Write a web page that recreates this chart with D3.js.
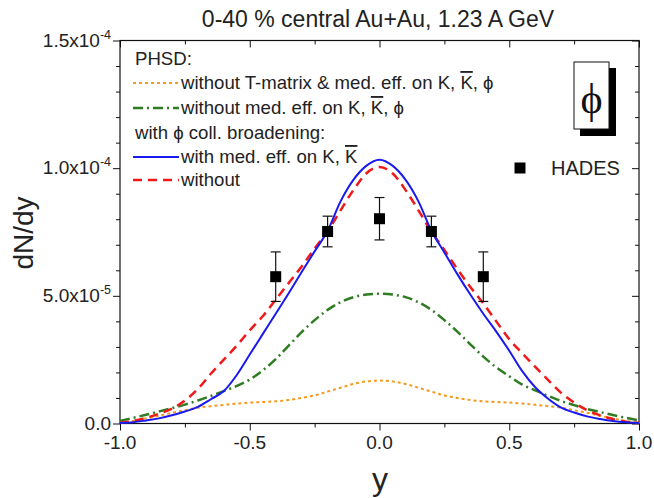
<!DOCTYPE html>
<html><head><meta charset="utf-8">
<script src="https://cdn.jsdelivr.net/npm/d3@7"></script>
<style>
html,body{margin:0;padding:0;background:#fff;}
svg text{font-family:"Liberation Sans",Arial,sans-serif;fill:#222;}
</style></head>
<body>
<svg id="chart" width="654" height="498"></svg>
<script>
// ---- data ----
const rapidity = [-1.0,-0.95,-0.9,-0.85,-0.8,-0.75,-0.7,-0.65,-0.6,-0.55,-0.5,-0.45,-0.4,-0.35,-0.3,-0.25,-0.2,-0.15,-0.1,-0.05,0.0,
                  0.05,0.1,0.15,0.2,0.25,0.3,0.35,0.4,0.45,0.5,0.55,0.6,0.65,0.7,0.75,0.8,0.85,0.9,0.95,1.0];
// values in units of 1e-5
const withMedEff = [0.02,0.05,0.12,0.2,0.32,0.47,0.65,0.95,1.27,1.9,2.7,3.5,4.3,5.1,5.93,6.74,7.55,8.7,9.55,10.1,10.33,
                    10.1,9.55,8.7,7.55,6.7,5.85,5.05,4.3,3.6,2.85,2.05,1.42,0.97,0.62,0.43,0.28,0.18,0.1,0.05,0.02];
const withoutMedEff = [0.03,0.1,0.22,0.38,0.58,0.9,1.35,1.95,2.5,3.05,3.65,4.2,4.85,5.5,6.15,6.85,7.52,8.35,9.15,9.8,10.05,
                       9.8,9.15,8.35,7.52,6.8,6.05,5.35,4.7,4.0,3.3,2.75,2.22,1.7,1.2,0.82,0.52,0.32,0.17,0.07,0.02];
const noMedEffKKphi = [0.1,0.22,0.34,0.47,0.6,0.74,0.9,1.08,1.27,1.47,1.72,2.08,2.52,3.05,3.58,4.05,4.45,4.75,4.95,5.05,5.08,
                       5.05,4.95,4.75,4.45,4.05,3.6,3.1,2.62,2.2,1.85,1.52,1.3,1.08,0.88,0.72,0.57,0.45,0.33,0.22,0.12];
const noTmatrix = [0.04,0.1,0.2,0.3,0.42,0.52,0.62,0.68,0.73,0.78,0.82,0.84,0.87,0.92,1.0,1.1,1.25,1.4,1.55,1.65,1.68,
                   1.65,1.55,1.4,1.25,1.1,1.0,0.92,0.87,0.84,0.82,0.78,0.73,0.68,0.62,0.52,0.42,0.3,0.2,0.1,0.04];
const unit = 1e-5;

const hadesY = [-0.4,-0.2,0.0,0.2,0.4];
const hadesV = [5.75,7.52,8.02,7.52,5.75];
const hadesErr = [0.97,0.6,0.83,0.6,0.97];

const xMajor = [-1.0,-0.5,0.0,0.5,1.0];
const xMajorLabels = ["-1.0","-0.5","0.0","0.5","1.0"];
const xMinor = [-0.75,-0.25,0.25,0.75];
const yMajor = [0,5e-5,1e-4,1.5e-4];
const yMajorMant = ["0.0","5.0x10","1.0x10","1.5x10"];
const yMajorExp = ["","-5","-4","-4"];
const yMinor = [1e-5,2e-5,3e-5,4e-5,6e-5,7e-5,8e-5,9e-5,1.1e-4,1.2e-4,1.3e-4,1.4e-4];

const titleText = "0-40 % central Au+Au, 1.23 A GeV";
const xLabel = "y", yLabel = "dN/dy";

// ---- layout ----
const svg = d3.select("#chart");
const L = 120, R = 639, T = 40.5, B = 423.5;
const x = d3.scaleLinear().domain([-1,1]).range([L,R]);
const y = d3.scaleLinear().domain([0,1.5e-4]).range([B,T]);

// axes
function styleAxis(g){ g.select(".domain").remove(); g.selectAll("line").attr("stroke","#111").attr("stroke-width",1); g.selectAll("text").remove(); }
svg.append("g").attr("transform",`translate(0,${B})`).call(d3.axisBottom(x).tickValues(xMajor).tickSize(7)).call(styleAxis);
svg.append("g").attr("transform",`translate(0,${B})`).call(d3.axisBottom(x).tickValues(xMinor).tickSize(4)).call(styleAxis);
svg.append("g").attr("transform",`translate(0,${T})`).call(d3.axisTop(x).tickValues(xMajor).tickSize(-7)).call(styleAxis);
svg.append("g").attr("transform",`translate(0,${T})`).call(d3.axisTop(x).tickValues(xMinor).tickSize(-4)).call(styleAxis);
svg.append("g").attr("transform",`translate(${L},0)`).call(d3.axisLeft(y).tickValues(yMajor).tickSize(7)).call(styleAxis);
svg.append("g").attr("transform",`translate(${L},0)`).call(d3.axisLeft(y).tickValues(yMinor).tickSize(4)).call(styleAxis);
svg.append("g").attr("transform",`translate(${R},0)`).call(d3.axisRight(y).tickValues(yMajor).tickSize(-7)).call(styleAxis);
svg.append("g").attr("transform",`translate(${R},0)`).call(d3.axisRight(y).tickValues(yMinor).tickSize(-4)).call(styleAxis);

svg.append("rect").attr("x",L).attr("y",T).attr("width",R-L).attr("height",B-T)
  .attr("fill","none").attr("stroke","#111").attr("stroke-width",1.2);

// tick labels
svg.append("g").selectAll("text").data(xMajor).join("text")
  .attr("x",d=>x(d)).attr("y",B+25).attr("text-anchor","middle").attr("font-size",19)
  .text((d,i)=>xMajorLabels[i]);
const yl = svg.append("g").selectAll("text").data(yMajor).join("text")
  .attr("x",111).attr("y",d=>y(d)+6).attr("text-anchor","end").attr("font-size",19);
yl.append("tspan").text((d,i)=>yMajorMant[i]);
yl.append("tspan").attr("font-size",12.5).attr("dy",-8).text((d,i)=>yMajorExp[i]);

// titles
svg.append("text").attr("x",378).attr("y",27).attr("text-anchor","middle").attr("font-size",23).text(titleText);
svg.append("text").attr("x",380).attr("y",490).attr("text-anchor","middle").attr("font-size",32).text(xLabel);
svg.append("text").attr("transform","translate(33,233) rotate(-90)").attr("text-anchor","middle").attr("font-size",28).text(yLabel);

// curves
const series = [
  {v:noTmatrix, color:"#f39a1e", dash:"3,3", w:2},
  {v:noMedEffKKphi, color:"#2f7d22", dash:"10,4,2,4", w:2.5},
  {v:withoutMedEff, color:"#f01818", dash:"9,6", w:2.5},
  {v:withMedEff, color:"#1a1aee", dash:null, w:2}
];
const line = d3.line().x(d=>x(d[0])).y(d=>y(d[1]*unit)).curve(d3.curveMonotoneX);
series.forEach(s=>{
  svg.append("path").datum(rapidity.map((r,i)=>[r,s.v[i]]))
    .attr("d",line).attr("fill","none").attr("stroke",s.color).attr("stroke-width",s.w)
    .attr("stroke-dasharray",s.dash);
});

// HADES points
const pts = svg.append("g");
hadesY.forEach((r,i)=>{
  const cx = x(r), top = y((hadesV[i]+hadesErr[i])*unit), bot = y((hadesV[i]-hadesErr[i])*unit);
  pts.append("line").attr("x1",cx).attr("x2",cx).attr("y1",top).attr("y2",bot).attr("stroke","#111").attr("stroke-width",1.2);
  pts.append("line").attr("x1",cx-5).attr("x2",cx+5).attr("y1",top).attr("y2",top).attr("stroke","#111").attr("stroke-width",1.2);
  pts.append("line").attr("x1",cx-5).attr("x2",cx+5).attr("y1",bot).attr("y2",bot).attr("stroke","#111").attr("stroke-width",1.2);
  pts.append("rect").attr("x",cx-5.5).attr("y",y(hadesV[i]*unit)-5.5).attr("width",11).attr("height",11).attr("fill","#000");
});

// legend
const lg = svg.append("g").attr("font-size",18.6);
lg.append("text").attr("x",135).attr("y",65).text("PHSD:");
function legRow(yb, s, parts){
  if(s) lg.append("line").attr("x1",133).attr("x2",179).attr("y1",yb-6).attr("y2",yb-6)
      .attr("stroke",s.color).attr("stroke-width",s.w).attr("stroke-dasharray",s.dash);
  const t = lg.append("text").attr("x",s?181:135).attr("y",yb);
  parts.forEach(p=>{ const ts=t.append("tspan").text(p[0]); if(p[1]) ts.style("text-decoration","overline"); });
}
legRow(89, series[0], [["without T-matrix & med. eff. on K, "],["K",true],[", ϕ"]]);
legRow(114, series[1], [["without med. eff. on K, "],["K",true],[", ϕ"]]);
legRow(139, null, [["with ϕ coll. broadening:"]]);
legRow(163, series[3], [["with med. eff. on K, "],["K",true]]);
legRow(186, series[2], [["without"]]);

// HADES legend
svg.append("rect").attr("x",514.5).attr("y",162.5).attr("width",11).attr("height",11).attr("fill","#000");
svg.append("text").attr("x",551).attr("y",175).attr("font-size",20).text("HADES");

// phi box
svg.append("rect").attr("x",580).attr("y",68).attr("width",36).attr("height",68).attr("fill","#000");
svg.append("rect").attr("x",574).attr("y",62).attr("width",35).attr("height",67).attr("fill","#fff").attr("stroke","#111").attr("stroke-width",1);
svg.append("text").attr("x",591.5).attr("y",113).attr("text-anchor","middle").attr("font-size",42)
  .style("font-family","'Liberation Serif','DejaVu Serif',serif").style("fill","#111").text("ϕ");
</script>
</body></html>
